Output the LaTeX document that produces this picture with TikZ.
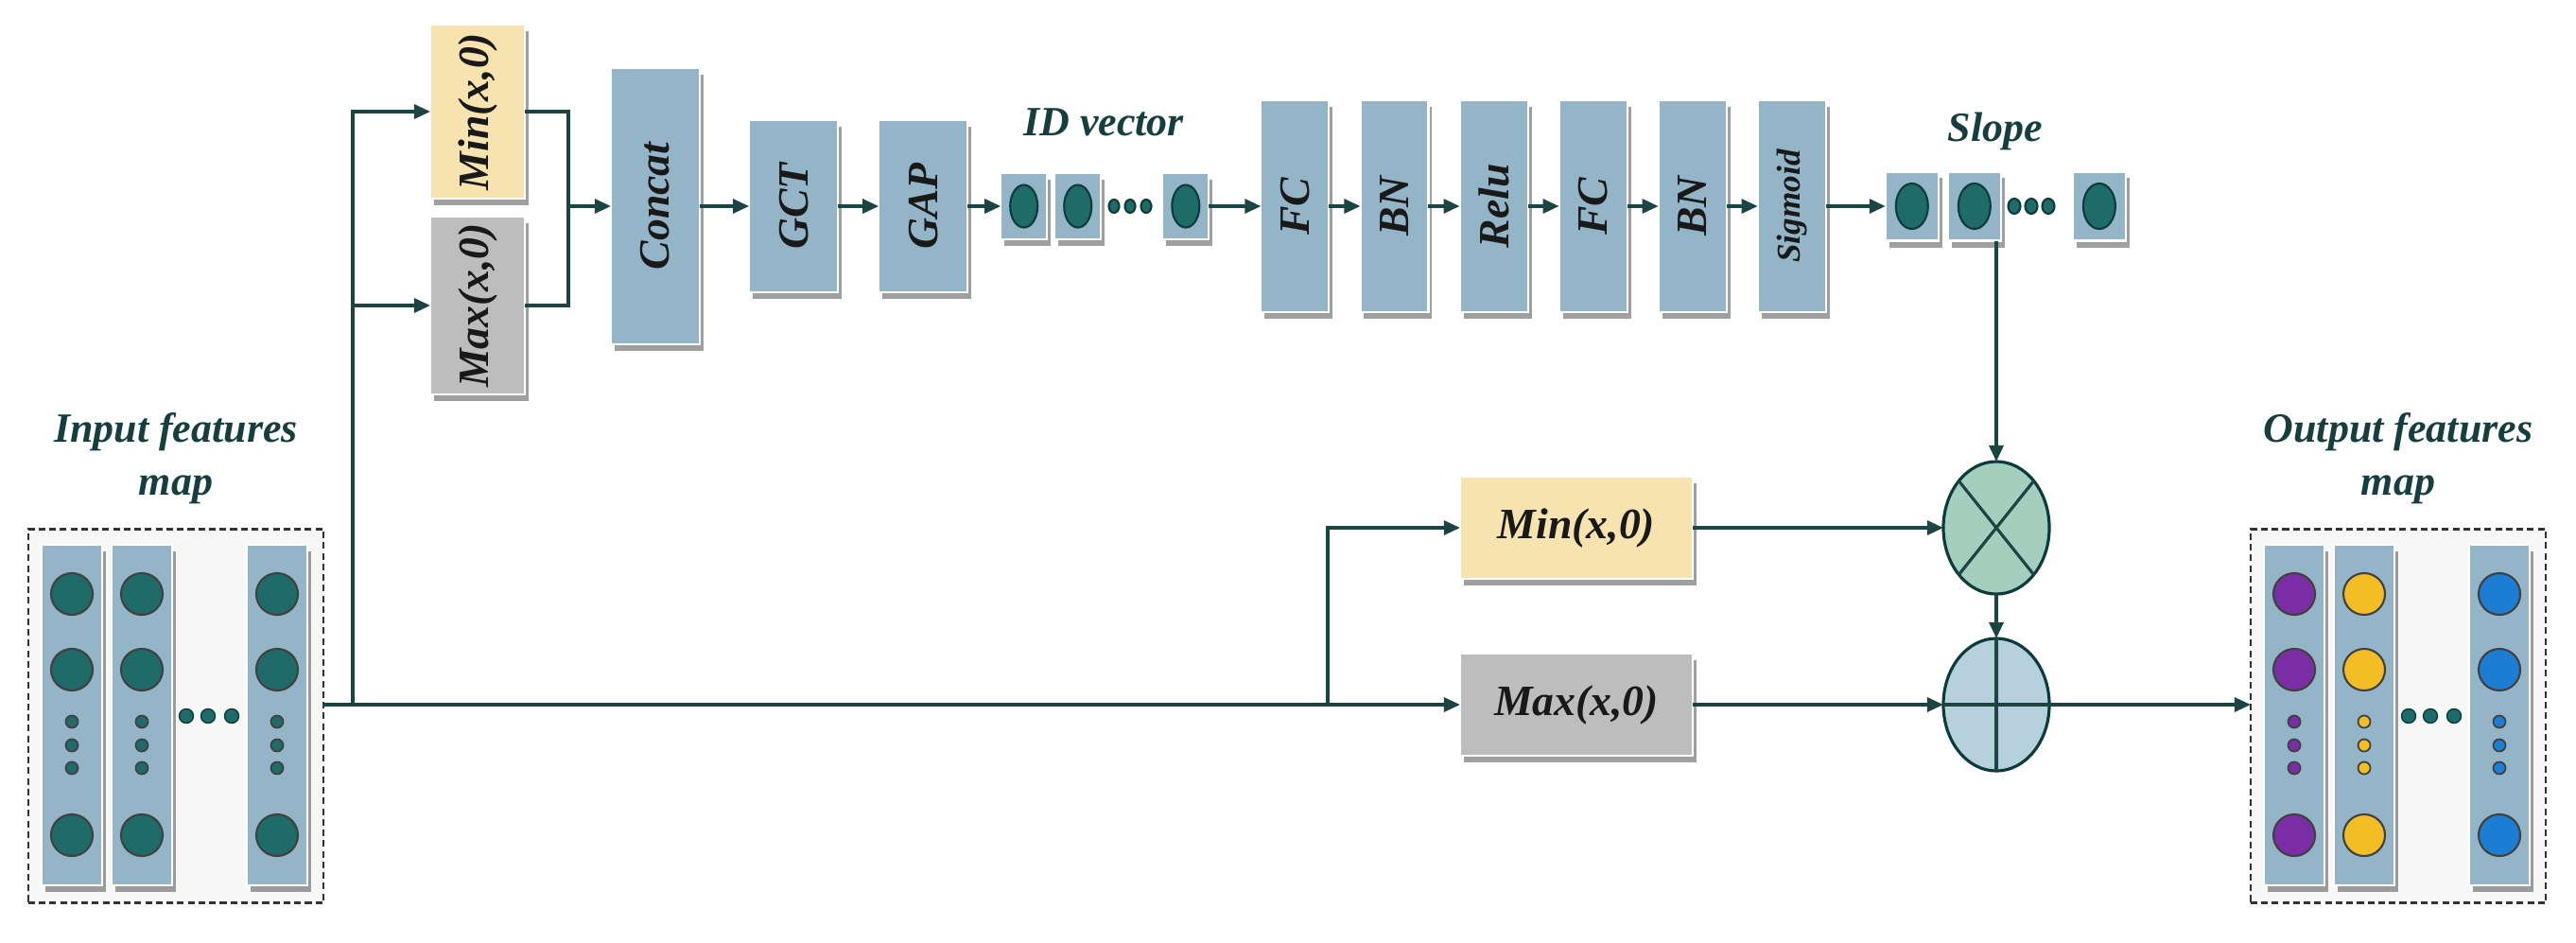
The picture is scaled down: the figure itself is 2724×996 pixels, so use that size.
\documentclass[tikz,border=0pt]{standalone}
\usepackage{fontspec}
\setmainfont{Liberation Serif}
\usepackage{xcolor}
\usetikzlibrary{arrows.meta, positioning, shapes.geometric, shadows}

\definecolor{boxblue}{HTML}{94B5C7}
\definecolor{tealc}{HTML}{1F6B69}
\definecolor{tealdark}{HTML}{0D3B3B}
\definecolor{linec}{HTML}{1C4442}
\definecolor{minyel}{HTML}{F6E3AF}
\definecolor{maxgray}{HTML}{BDBDBD}
\definecolor{multgreen}{HTML}{A4CFBF}
\definecolor{addblue}{HTML}{B6D0DC}
\definecolor{titlec}{HTML}{163E3E}
\definecolor{outpurple}{HTML}{7A2DA5}
\definecolor{outyellow}{HTML}{F2BD25}
\definecolor{outblue}{HTML}{1B7ED2}

\newcommand{\boxfont}{\fontsize{13}{15}\selectfont\bfseries\itshape}
\newcommand{\titlefont}{\fontsize{12.5}{16}\selectfont\bfseries\itshape}
\newcommand{\vlab}[1]{\rotatebox{90}{#1}}

\begin{document}
\begin{tikzpicture}[x=0.01cm, y=-0.01cm, >={Triangle[length=0.17cm, width=0.15cm]}, node distance=0.33cm,
            conn/.style={draw=linec, line width=0.9pt},
            shadowed/.style={drop shadow={shadow xshift=0.04cm, shadow yshift=-0.07cm, opacity=0.5, fill=black!75}},
            layerbox/.style={shadowed, rectangle, draw=white, line width=0.6pt, fill=boxblue, inner sep=0pt, outer sep=0pt,
                             minimum width=0.72cm, minimum height=2.24cm, font=\boxfont, text=black!90},
            cell/.style={shadowed, rectangle, draw=white, line width=0.6pt, fill=boxblue, inner sep=0pt, outer sep=0pt},
            idcell/.style={cell, minimum width=0.49cm, minimum height=0.70cm},
            slcell/.style={cell, minimum width=0.56cm, minimum height=0.73cm},
            fcol/.style={cell, minimum width=0.64cm, minimum height=3.60cm},
            mapbox/.style={draw=black!80, dash pattern=on 2pt off 1.2pt, line width=0.7pt, fill=black!3,
                           minimum width=3.12cm, minimum height=3.95cm, inner sep=0pt, outer sep=0pt},
            blob/.style={ellipse, draw=tealdark, fill=tealc, line width=0.6pt, inner sep=0pt, outer sep=0pt},
            bigdot/.style={circle, draw=black!75, line width=0.6pt, inner sep=0pt, minimum size=0.44cm},
            tinydot/.style={circle, draw=black!75, line width=0.5pt, inner sep=0pt, minimum size=0.13cm},
            hdot/.style={circle, fill=tealc, draw=tealdark, inner sep=0pt, minimum size=0.15cm},
            opnode/.style={ellipse, draw=tealdark, line width=0.9pt, minimum width=1.12cm, minimum height=1.40cm,
                           inner sep=0pt, outer sep=0pt},
            maptitle/.style={font=\titlefont, text=titlec, align=center}]

    \useasboundingbox (0,0) rectangle (2724,996);

    % input features map
    \node[mapbox] (inmap) at (186,757) {};
    \node[maptitle] (intxt) at (186,485) {Input features\\map};
    \foreach \n/\x in {1/76, 2/150, 3/293} {
        \node[fcol] (in\n) at (\x,756) {};
        \foreach \y in {628,708,883} \node[bigdot, fill=tealc] (in\n-\y) at (\x,\y) {};
        \foreach \y in {763,788,812} \node[tinydot, fill=tealc] (in\n-\y) at (\x,\y) {};
    }
    \foreach \x in {197,220,245} \node[hdot] (inh\x) at (\x,757) {};

    % output features map
    \node[mapbox] (outmap) at (2536,757) {};
    \node[maptitle] (outtxt) at (2536,485) {Output features\\map};
    \foreach \n/\x/\c in {1/2426/outpurple, 2/2500/outyellow, 3/2643/outblue} {
        \node[fcol] (out\n) at (\x,756) {};
        \foreach \y in {628,708,883} \node[bigdot, fill=\c] (out\n-\y) at (\x,\y) {};
        \foreach \y in {763,788,812} \node[tinydot, fill=\c] (out\n-\y) at (\x,\y) {};
    }
    \foreach \x in {2547,2570,2595} \node[hdot] (outh\x) at (\x,757) {};

    % upper branch
    \node[layerbox, fill=minyel, minimum width=1.00cm, minimum height=1.84cm] (mintop) at (505,118) {\vlab{Min(x,0)}};
    \node[layerbox, fill=maxgray, minimum width=1.00cm, minimum height=1.88cm] (maxtop) at (505,323) {\vlab{Max(x,0)}};
    \node[layerbox, minimum width=0.94cm, minimum height=2.92cm] (concat) at (693,218) {\vlab{Concat}};
    \node[layerbox, minimum width=0.94cm, minimum height=1.82cm, right=0.52cm of concat] (gct) {\vlab{GCT}};
    \node[layerbox, minimum width=0.94cm, minimum height=1.82cm, right=0.43cm of gct] (gap) {\vlab{GAP}};

    % ID vector
    \node[idcell, right=0.35cm of gap] (id1) {};
    \node[idcell, right=0.08cm of id1] (id2) {};
    \node[idcell, right=0.65cm of id2] (id3) {};
    \foreach \i in {1,2,3} \node[blob, minimum width=0.29cm, minimum height=0.45cm] (id\i b) at (id\i) {};
    \foreach \x in {1178,1195,1212} \node[blob, minimum width=0.11cm, minimum height=0.14cm] (idd\x) at (\x,218) {};
    \node[maptitle] (idtxt) at (1167,129) {ID vector};

    \node[layerbox, right=0.55cm of id3] (fc1) {\vlab{FC}};
    \node[layerbox, right=of fc1] (bn1) {\vlab{BN}};
    \node[layerbox, right=of bn1] (relu) {\vlab{Relu}};
    \node[layerbox, right=of relu] (fc2) {\vlab{FC}};
    \node[layerbox, right=of fc2] (bn2) {\vlab{BN}};
    \node[layerbox, right=of bn2, font=\fontsize{10}{12}\selectfont\bfseries\itshape] (sig) {\vlab{Sigmoid}};

    % slope
    \node[slcell, right=0.63cm of sig] (sl1) {};
    \node[slcell, right=0.10cm of sl1] (sl2) {};
    \node[slcell, right=0.76cm of sl2] (sl3) {};
    \foreach \i in {1,2,3} \node[blob, minimum width=0.34cm, minimum height=0.48cm] (sl\i b) at (sl\i) {};
    \foreach \x in {2130,2148,2166} \node[blob, minimum width=0.13cm, minimum height=0.16cm] (sld\x) at (\x,218) {};
    \node[maptitle] (sltxt) at (2110,139) {Slope};

    % lower branch
    \node[layerbox, fill=minyel, minimum width=2.46cm, minimum height=1.08cm] (minbot) at (1667,558) {Min(x,0)};
    \node[layerbox, fill=maxgray, minimum width=2.46cm, minimum height=1.08cm] (maxbot) at (1667,745) {Max(x,0)};
    \node[opnode, fill=multgreen] (mult) at (2111,558) {};
    \node[opnode, fill=addblue] (add) at (2111,745) {};
    \draw[conn] (mult.north west) -- (mult.south east) (mult.north east) -- (mult.south west);
    \draw[conn] (add.north) -- (add.south) (add.west) -- (add.east);

    % connectors
    \coordinate (s1) at (373,745);
    \coordinate (s2) at (1404,745);
    \coordinate (jn) at (601,218);
    \draw[conn, ->] (inmap.east |- s1) -- (maxbot.west);
    \draw[conn, ->] (s1) |- (mintop.west);
    \draw[conn, ->] (s1) |- (maxtop.west);
    \draw[conn] (mintop.east) -| (jn) |- (maxtop.east);
    \draw[conn, ->] (jn) -- (concat.west);
    \draw[conn, ->] (concat) -- (gct); \draw[conn, ->] (gct) -- (gap); \draw[conn, ->] (gap) -- (id1);
    \draw[conn, ->] (id3) -- (fc1); \draw[conn, ->] (fc1) -- (bn1); \draw[conn, ->] (bn1) -- (relu);
    \draw[conn, ->] (relu) -- (fc2); \draw[conn, ->] (fc2) -- (bn2); \draw[conn, ->] (bn2) -- (sig);
    \draw[conn, ->] (sig) -- (sl1);
    \draw[conn, ->] (mult.north |- sl2.south) -- (mult.north);
    \draw[conn, ->] (s2) |- (minbot.west);
    \draw[conn, ->] (minbot) -- (mult);
    \draw[conn, ->] (maxbot) -- (add.west);
    \draw[conn, ->] (mult) -- (add);
    \draw[conn, ->] (add.east) -- (outmap.west |- add.east);
\end{tikzpicture}
\end{document}
